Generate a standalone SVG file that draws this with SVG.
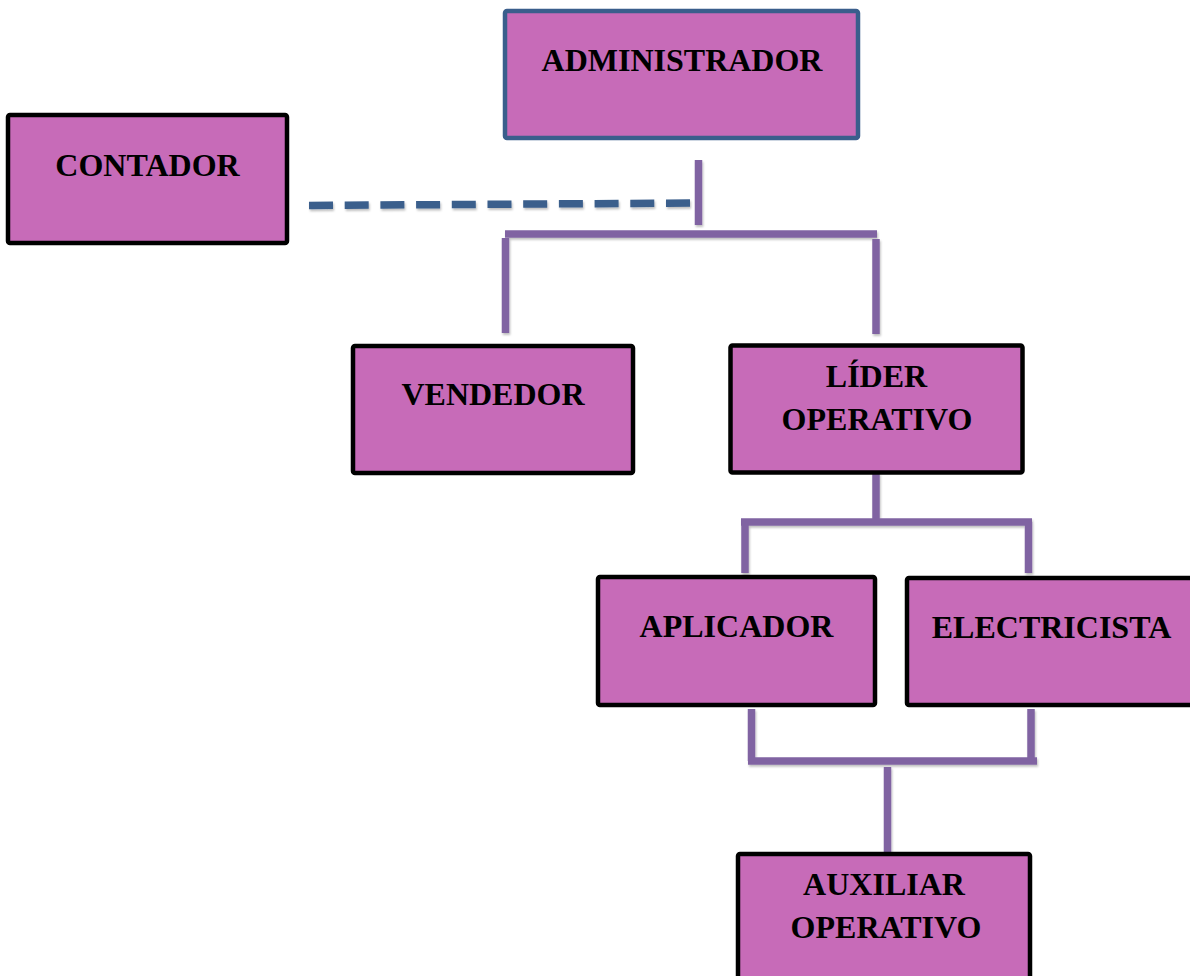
<svg xmlns="http://www.w3.org/2000/svg" width="1190" height="976" viewBox="0 0 1190 976">
<style>
.box{fill:#C76BB8;stroke:#000;stroke-width:4.5}
.boxb{fill:#C76BB8;stroke:#3A5E8C;stroke-width:4.5}
.t{font-family:"Liberation Serif","Times New Roman",serif;font-weight:bold;font-size:32px;fill:#000;text-anchor:middle}
.c{stroke:#8064A2;stroke-width:7.5;fill:none;stroke-linecap:butt}
.d{stroke:#3A5E8C;stroke-width:7.5;fill:none;stroke-dasharray:24 11.7}
</style>
<defs>
<filter id="sh" x="-10%" y="-10%" width="120%" height="120%">
<feDropShadow dx="1" dy="2" stdDeviation="1.2" flood-color="#000" flood-opacity="0.25"/>
</filter>
</defs>
<rect width="1190" height="976" fill="#fff"/>
<g id="connectors" filter="url(#sh)">
<line class="d" x1="309" y1="205.5" x2="690" y2="203"/>
<line class="c" x1="698.5" y1="160" x2="698.5" y2="225"/>
<line class="c" x1="505" y1="234" x2="877" y2="234"/>
<line class="c" x1="505.5" y1="238" x2="505.5" y2="333"/>
<line class="c" x1="876" y1="239" x2="876" y2="334"/>
<line class="c" x1="876" y1="473" x2="876" y2="522"/>
<line class="c" x1="741" y1="522" x2="1032" y2="522"/>
<line class="c" x1="745" y1="522" x2="745" y2="573"/>
<line class="c" x1="1028.5" y1="522" x2="1028.5" y2="573"/>
<line class="c" x1="751.5" y1="709" x2="751.5" y2="761"/>
<line class="c" x1="1031" y1="709" x2="1031" y2="761"/>
<line class="c" x1="748" y1="761" x2="1037" y2="761"/>
<line class="c" x1="887.5" y1="767" x2="887.5" y2="853"/>
</g>
<g id="administrador">
<rect class="boxb" x="505" y="11" width="353" height="127" rx="2"/>
<text class="t" x="682" y="71">ADMINISTRADOR</text>
</g>
<g id="contador">
<rect class="box" x="8" y="115" width="279" height="128" rx="2"/>
<text class="t" x="147.5" y="176">CONTADOR</text>
</g>
<g id="vendedor">
<rect class="box" x="353" y="346" width="280" height="127" rx="2"/>
<text class="t" x="493" y="405">VENDEDOR</text>
</g>
<g id="lider-operativo">
<rect class="box" x="730.5" y="345.5" width="292" height="127" rx="2"/>
<text class="t" x="876.5" y="387">LÍDER</text>
<text class="t" x="877" y="430">OPERATIVO</text>
</g>
<g id="aplicador">
<rect class="box" x="598" y="577" width="277" height="128" rx="2"/>
<text class="t" x="736.5" y="637">APLICADOR</text>
</g>
<g id="electricista">
<rect class="box" x="907" y="578" width="290" height="127" rx="2"/>
<text class="t" x="1051.5" y="638">ELECTRICISTA</text>
</g>
<g id="auxiliar-operativo">
<rect class="box" x="738" y="854" width="292" height="140" rx="2"/>
<text class="t" x="884" y="895">AUXILIAR</text>
<text class="t" x="886" y="938">OPERATIVO</text>
</g>
</svg>
